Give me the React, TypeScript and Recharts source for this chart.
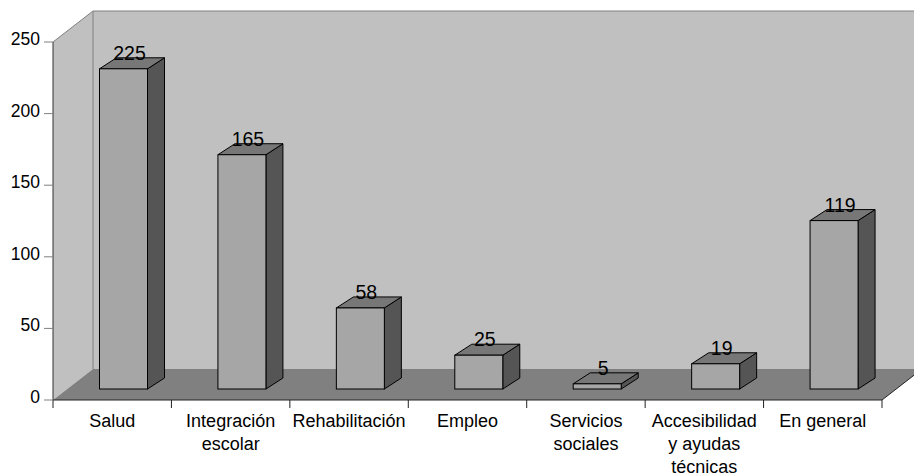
import React from 'react';
import { BarChart, Bar, XAxis, YAxis, LabelList, Customized } from 'recharts';

const categories = ['Salud', 'Integración escolar', 'Rehabilitación', 'Empleo', 'Servicios sociales', 'Accesibilidad y ayudas técnicas', 'En general'];
const categoryLines = [['Salud'], ['Integración', 'escolar'], ['Rehabilitación'], ['Empleo'], ['Servicios', 'sociales'], ['Accesibilidad', 'y ayudas', 'técnicas'], ['En general']];
const values = [225, 165, 58, 25, 5, 19, 119];
const yTicks = [0, 50, 100, 150, 200, 250];

const data = categories.map((name, i) => ({ name, value: values[i] }));

const W = 914;
const H = 476;
const XAXIS_H = 30;
const MARGIN = { top: 42, right: 32, bottom: 76 - XAXIS_H, left: 0 };
const YAXIS_W = 53;
const PLOT = {
  x: MARGIN.left + YAXIS_W,
  y: MARGIN.top,
  w: W - MARGIN.left - YAXIS_W - MARGIN.right,
  h: H - MARGIN.top - MARGIN.bottom - XAXIS_H,
};
const WALL_DX = 40;
const WALL_DY = -31;
const BAR_SHIFT_X = 11.5;
const BAR_TOP_DY = -9;
const BAR_BOTTOM_DY = -11;
const DEPTH_DX = 17;
const DEPTH_DY = -11;
const FONT = '"Liberation Sans", Arial, Helvetica, sans-serif';

const Backdrop = () => {
  const x0 = PLOT.x;
  const y0 = PLOT.y;
  const x1 = PLOT.x + PLOT.w;
  const y1 = PLOT.y + PLOT.h;
  const bx0 = x0 + WALL_DX;
  const by0 = y0 + WALL_DY;
  const bx1 = x1 + WALL_DX;
  const by1 = y1 + WALL_DY;
  const n = categories.length;
  const step = PLOT.w / n;
  const ticks = [];
  for (let i = 0; i <= n; i++) {
    const tx = x0 + i * step;
    ticks.push(<line key={i} x1={tx} y1={y1} x2={tx} y2={y1 + 8} stroke="#222" strokeWidth={1} />);
  }
  return (
    <g>
      <polygon points={`${bx0},${by0} ${bx1},${by0} ${bx1},${by1} ${bx0},${by1}`} fill="#C0C0C0" />
      <polygon points={`${x0},${y0} ${bx0},${by0} ${bx0},${by1} ${x0},${y1}`} fill="#C0C0C0" />
      <polygon points={`${x0},${y1} ${bx0},${by1} ${bx1},${by1} ${x1},${y1}`} fill="#808080" />
      <line x1={x0} y1={y0} x2={bx0} y2={by0} stroke="#808080" />
      <line x1={bx0} y1={by0} x2={bx1} y2={by0} stroke="#808080" />
      <line x1={bx0} y1={by0} x2={bx0} y2={by1} stroke="#808080" />
      <line x1={x0} y1={y1} x2={x1} y2={y1} stroke="#222" />
      <line x1={x1} y1={y1} x2={bx1} y2={by1} stroke="#222" />
      <line x1={x0} y1={y0} x2={x0} y2={y1} stroke="#333" />
      {ticks}
    </g>
  );
};

const Bar3D = (props: any) => {
  const { x, y, width, height } = props;
  if (x == null || y == null) return null;
  const fx = x + BAR_SHIFT_X;
  const top = y + BAR_TOP_DY;
  const bottom = y + height + BAR_BOTTOM_DY;
  const w = width;
  const topPts = `${fx},${top} ${fx + DEPTH_DX},${top + DEPTH_DY} ${fx + w + DEPTH_DX},${top + DEPTH_DY} ${fx + w},${top}`;
  const sidePts = `${fx + w},${top} ${fx + w + DEPTH_DX},${top + DEPTH_DY} ${fx + w + DEPTH_DX},${bottom + DEPTH_DY} ${fx + w},${bottom}`;
  return (
    <g>
      <polygon points={sidePts} fill="#555555" stroke="#000" strokeWidth={1} strokeLinejoin="round" />
      <polygon points={topPts} fill="#777777" stroke="#000" strokeWidth={1} strokeLinejoin="round" />
      <rect x={fx} y={top} width={w} height={Math.max(bottom - top, 0)} fill="#A6A6A6" stroke="#000" strokeWidth={1} />
    </g>
  );
};

const renderLabel = (p: any) => {
  const x = p.x ?? p.viewBox?.x;
  const y = p.y ?? p.viewBox?.y;
  const width = p.width ?? p.viewBox?.width;
  if (x == null || y == null) return null;
  const cx = x + width / 2 + BAR_SHIFT_X + 6;
  const top = y + BAR_TOP_DY;
  return (
    <text x={cx} y={top - 9} textAnchor="middle" fontSize={19.5} fontFamily={FONT} fill="#000">
      {p.value}
    </text>
  );
};

const XTick = (props: any) => {
  const { x, y, payload } = props;
  const idx = categories.indexOf(payload.value);
  const lines = idx >= 0 ? categoryLines[idx] : [String(payload.value)];
  return (
    <g>
      {lines.map((ln, i) => (
        <text key={i} x={x} y={y + 18.5 + i * 23} textAnchor="middle" fontSize={18} fontFamily={FONT} fill="#000">
          {ln}
        </text>
      ))}
    </g>
  );
};

const YTick = (props: any) => {
  const { x, y, payload } = props;
  return (
    <text x={x} y={y + 3} textAnchor="end" fontSize={17.5} fontFamily={FONT} fill="#000">
      {payload.value}
    </text>
  );
};

export default function App() {
  return (
    <div style={{ position: 'absolute', left: 0, top: 0, width: W, height: H, background: '#fff' }}>
      <BarChart width={W} height={H} data={data} margin={MARGIN}>
        <Customized component={<Backdrop />} />
        <XAxis dataKey="name" height={XAXIS_H} interval={0} axisLine={false} tickLine={false} tickSize={8} tickMargin={0} tick={<XTick />} />
        <YAxis
          width={YAXIS_W}
          domain={[0, 250]}
          ticks={yTicks}
          axisLine={false}
          tickLine={{ stroke: '#808080' }}
          tickSize={9}
          tickMargin={4}
          tick={<YTick />}
        />
        <Bar dataKey="value" barSize={48} shape={<Bar3D />} isAnimationActive={false}>
          <LabelList dataKey="value" content={renderLabel} />
        </Bar>
      </BarChart>
    </div>
  );
}
